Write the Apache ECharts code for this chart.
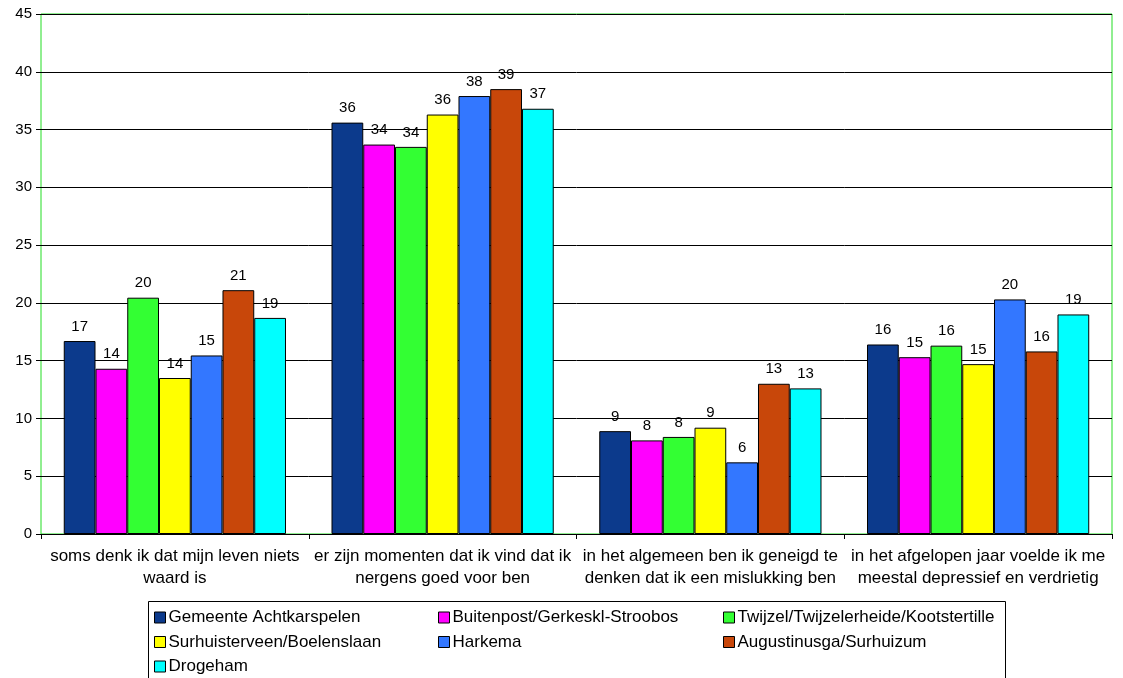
<!DOCTYPE html>
<html>
<head>
<meta charset="utf-8">
<script src="https://cdn.jsdelivr.net/npm/echarts@6/dist/echarts.min.js"></script>
<style>html,body{margin:0;padding:0;background:#fff}#c{width:1123px;height:678px}</style>
</head>
<body>
<div id="c"></div>
<script>
const categories = [
  "soms denk ik dat mijn leven niets\nwaard is",
  "er zijn momenten dat ik vind dat ik\nnergens goed voor ben",
  "in het algemeen ben ik geneigd te\ndenken dat ik een mislukking ben",
  "in het afgelopen jaar voelde ik me\nmeestal depressief en verdrietig"
];
const seriesNames = [
  "Gemeente Achtkarspelen",
  "Buitenpost/Gerkeskl-Stroobos",
  "Twijzel/Twijzelerheide/Kootstertille",
  "Surhuisterveen/Boelenslaan",
  "Harkema",
  "Augustinusga/Surhuizum",
  "Drogeham"
];
const gemeente = [16.7, 35.6, 8.9, 16.4];
const buitenpost = [14.3, 33.7, 8.1, 15.3];
const twijzel = [20.45, 33.5, 8.4, 16.3];
const surhuisterveen = [13.5, 36.3, 9.2, 14.7];
const harkema = [15.45, 37.9, 6.2, 20.3];
const augustinusga = [21.1, 38.5, 13.0, 15.8];
const drogeham = [18.7, 36.8, 12.6, 19.0];
const yTicks = [0, 5, 10, 15, 20, 25, 30, 35, 40, 45];

const values = [gemeente, buitenpost, twijzel, surhuisterveen, harkema, augustinusga, drogeham];
const colors = ['#0c3a8c', '#ff00ff', '#33ff33', '#ffff00', '#3377ff', '#c8470a', '#00ffff'];

const chart = echarts.init(document.getElementById('c'));
const font = 'Liberation Sans, Arial, sans-serif';
chart.setOption({
  animation: false,
  textStyle: { fontFamily: font },
  grid: { left: 41, right: 11, top: 14, bottom: 144, show: true, borderColor: '#22dd22', borderWidth: 1, backgroundColor: '#fff' },
  xAxis: {
    type: 'category', data: categories,
    axisLine: { lineStyle: { color: '#000' } },
    axisTick: { show: true, length: 5, lineStyle: { color: '#000' } },
    axisLabel: { color: '#000', fontSize: 17, lineHeight: 22, margin: 11, interval: 0, fontFamily: font }
  },
  yAxis: {
    type: 'value', min: yTicks[0], max: yTicks[yTicks.length - 1], interval: 5,
    axisLine: { show: false },
    axisTick: { show: true, length: 5, lineStyle: { color: '#000' } },
    axisLabel: { color: '#000', fontSize: 15, margin: 9, fontFamily: font },
    splitLine: { lineStyle: { color: '#000', width: 1 } }
  },
  legend: [
    { left: 154, data: [seriesNames[0], seriesNames[3], seriesNames[6]] },
    { left: 438, data: [seriesNames[1], seriesNames[4]] },
    { left: 723, data: [seriesNames[2], seriesNames[5]] }
  ].map(l => Object.assign(l, {
    top: 609, orient: 'vertical', itemGap: 7.5, padding: 0, height: 120,
    icon: 'rect', itemWidth: 11, itemHeight: 11,
    itemStyle: { borderColor: '#000', borderWidth: 1 },
    textStyle: { color: '#000', fontSize: 17, lineHeight: 17, fontFamily: font, padding: [0, 0, 0, -2] }
  })),
  graphic: [{
    type: 'rect', left: 146, top: 599, shape: { width: 857, height: 90 },
    style: { fill: 'none', stroke: '#000', lineWidth: 1 }, z: -1
  }],
  series: seriesNames.map((n, i) => ({
    name: n, type: 'bar', data: values[i],
    barGap: '0%', barCategoryGap: '17%',
    itemStyle: { color: colors[i], borderColor: '#000', borderWidth: 1 },
    label: {
      show: true, position: 'top', distance: 7, color: '#000', fontSize: 15, fontFamily: font,
      formatter: p => Math.round(p.value)
    }
  }))
});
</script>
</body>
</html>
